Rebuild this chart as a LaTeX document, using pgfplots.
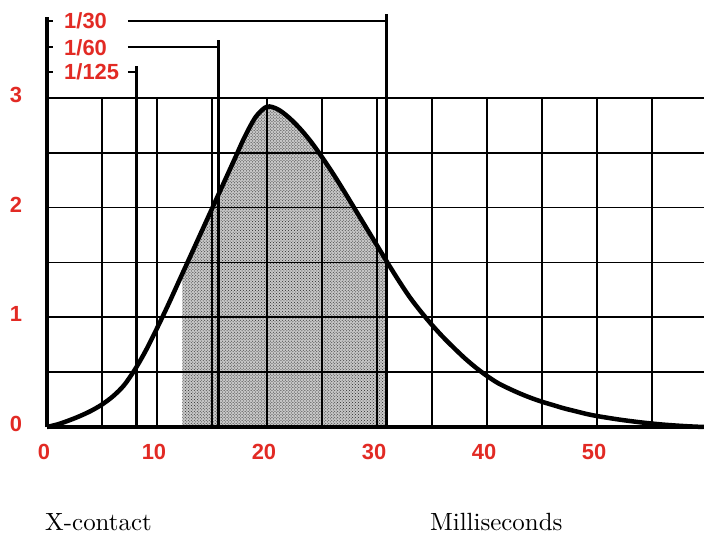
\documentclass[border=0pt]{standalone}
\usepackage{pgfplots}
\pgfplotsset{compat=1.18}
\usepgfplotslibrary{fillbetween}
\usetikzlibrary{patterns}
\usepackage{fontspec}
\newfontfamily\labfont{Liberation Sans}
\newfontfamily\capfont{lmroman10-regular}[Extension=.otf]
\definecolor{lblred}{RGB}{226,42,36}
\begin{document}
\begin{tikzpicture}
\begin{axis}[
  at={(0,0)}, anchor=south west,
  x=11bp, y=109.7bp,
  xmin=0, xmax=59.73, ymin=0, ymax=3,
  axis x line=bottom, axis y line=left,
  axis line style={-, line width=3bp, black},
  xtick={0,5,10,15,20,25,30,35,40,45,50,55},
  xticklabels={0,,10,,20,,30,,40,,50,},
  ytick={0,0.5,1,1.5,2,2.5,3},
  yticklabels={0,,1,,2,,3},
  grid=major, major grid style={line width=1.7bp, black},
  major tick length=0pt,
  tick label style={font=\labfont\bfseries\fontsize{22}{22}\selectfont, text=lblred},
  xticklabel style={anchor=center, yshift=-25bp, xshift=-3bp},
  yticklabel style={anchor=center, xshift=-31bp, yshift=3bp},
  clip=false, axis on top,
]
\addplot[name path=curve, line width=4.5bp, smooth, black] coordinates {
(0,0) (1,0.025) (2,0.06) (3,0.10) (4,0.147) (5,0.205) (6,0.28) (7,0.38)
(8,0.525) (9,0.70) (10,0.90) (11,1.11) (12,1.33) (13,1.55) (14,1.77) (15,1.99)
(16,2.21) (17,2.43) (18,2.65) (19,2.83) (20,2.92) (21,2.895) (22,2.82) (23,2.72)
(24,2.60) (25,2.46) (26,2.31) (27,2.15) (28,1.985) (29,1.82) (30,1.655) (31,1.49)
(32,1.33) (33,1.18) (34,1.05) (35,0.93) (36,0.82) (37,0.72) (38,0.625) (39,0.54)
(40,0.465) (41,0.40) (42,0.35) (43,0.305) (44,0.265) (45,0.23) (46,0.20) (47,0.17)
(48,0.145) (49,0.12) (50,0.10) (52,0.068) (54,0.042) (56,0.022) (58,0.008) (59.7,0.0)};
\addplot[draw=none, name path=base] coordinates {(0,0) (59.73,0)};
\addplot[fill=black!22, draw=none] fill between[of=curve and base, soft clip={domain=12.3:30.9}];
\addplot[pattern=crosshatch dots, pattern color=black!85, draw=none] fill between[of=curve and base, soft clip={domain=12.3:30.9}];
% left axis extension and ticks
\addplot[line width=3bp, black] coordinates {(0,0) (0,3.74)};
\addplot[line width=2bp, black] coordinates {(0,3.70) (0.55,3.70)};
\addplot[line width=2bp, black] coordinates {(0,3.46) (0.55,3.46)};
\addplot[line width=2bp, black] coordinates {(0,3.24) (0.55,3.24)};
% shutter speed lines
\addplot[line width=3bp, black] coordinates {(8.18,0) (8.18,3.29)};
\addplot[line width=2bp, black] coordinates {(7.36,3.24) (8.18,3.24)};
\addplot[line width=3bp, black] coordinates {(15.55,0) (15.55,3.53)};
\addplot[line width=2bp, black] coordinates {(7.36,3.46) (15.55,3.46)};
\addplot[line width=3bp, black] coordinates {(30.9,0) (30.9,3.765)};
\addplot[line width=2bp, black] coordinates {(7.36,3.70) (30.9,3.70)};
\node[anchor=west, inner sep=0, text=lblred, font=\labfont\bfseries\fontsize{22}{22}\selectfont] at (axis cs:1.55,3.70) {1/30};
\node[anchor=west, inner sep=0, text=lblred, font=\labfont\bfseries\fontsize{22}{22}\selectfont] at (axis cs:1.55,3.46) {1/60};
\node[anchor=west, inner sep=0, text=lblred, font=\labfont\bfseries\fontsize{22}{22}\selectfont] at (axis cs:1.55,3.24) {1/125};
\node[anchor=base west, inner sep=0, font=\capfont\fontsize{25}{25}\selectfont] at (axis cs:-0.18,-0.94) {X-contact};
\node[anchor=base west, inner sep=0, font=\capfont\fontsize{25}{25}\selectfont] at (axis cs:34.8,-0.94) {Milliseconds};
\end{axis}
\pgfresetboundingbox
\path[use as bounding box] (-47bp,-107bp) rectangle (657bp,427bp);
\end{tikzpicture}
\end{document}
